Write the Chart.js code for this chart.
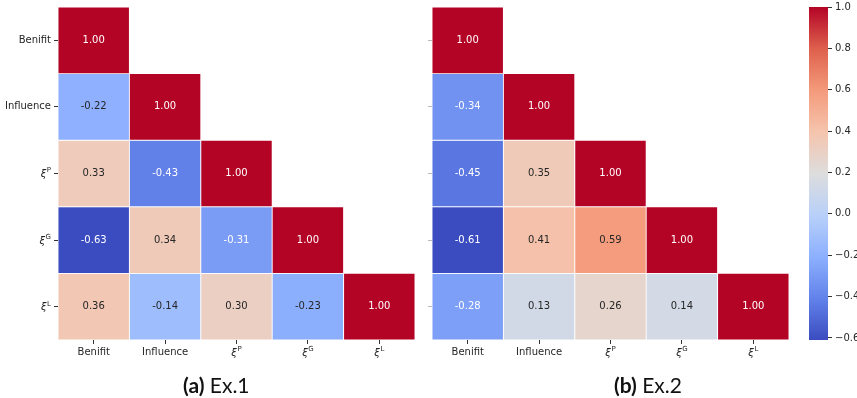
<!DOCTYPE html>
<html lang="en">
<head>
<meta charset="UTF-8" />
<title>Correlation heatmaps</title>
<script src="https://cdn.jsdelivr.net/npm/chart.js"></script>
<style>
  body {
    margin: 0;
    background: white;
    width: 857px;
    height: 398px;
    position: relative;
    overflow: hidden;
    font-family: "DejaVu Sans", sans-serif;
  }
  .box { position: absolute; }
  .caption {
    position: absolute;
    top: 372px;
    font-family: "Lato", "Noto Sans", sans-serif;
    font-size: 21px;
    color: #111;
    white-space: nowrap;
  }
  .caption b { font-weight: 700; }
</style>
</head>
<body>

<div class="box" style="left:0;top:0;width:420px;height:375px"><canvas id="ex1"></canvas></div>
<div class="box" style="left:420px;top:0;width:374px;height:375px"><canvas id="ex2"></canvas></div>
<div class="box" style="left:800px;top:0;width:57px;height:347px"><canvas id="cbar"></canvas></div>

<div class="caption" style="left:183px"><b>(a)</b> Ex.1</div>
<div class="caption" style="left:614px"><b>(b)</b> Ex.2</div>

<script>
  // variable names (x and y are the same); ^ marks a superscript
  const varLabels = ['Benifit', 'Influence', 'ξ^P', 'ξ^G', 'ξ^L'];

  // lower triangle, row by row
  const ex1Values = [
    [1.00],
    [-0.22, 1.00],
    [0.33, -0.43, 1.00],
    [-0.63, 0.34, -0.31, 1.00],
    [0.36, -0.14, 0.30, -0.23, 1.00]
  ];
  const ex2Values = [
    [1.00],
    [-0.34, 1.00],
    [-0.45, 0.35, 1.00],
    [-0.61, 0.41, 0.59, 1.00],
    [-0.28, 0.13, 0.26, 0.14, 1.00]
  ];

  const colorbarTicks = [-0.6, -0.4, -0.2, 0.0, 0.2, 0.4, 0.6, 0.8, 1.0];
  const vmax = 1.0;
  const vminEx1 = -0.63;
  const vminEx2 = -0.61;

  // coolwarm anchor colours
  const coolwarm = [
    [0.0, [59, 76, 192]],
    [0.125, [98, 130, 234]],
    [0.25, [141, 176, 254]],
    [0.375, [184, 208, 249]],
    [0.5, [221, 221, 221]],
    [0.625, [245, 196, 173]],
    [0.75, [244, 154, 123]],
    [0.875, [222, 96, 77]],
    [1.0, [180, 4, 38]]
  ];

  function cmap(t) {
    t = Math.max(0, Math.min(1, t));
    for (let i = 1; i < coolwarm.length; i++) {
      if (t <= coolwarm[i][0]) {
        const [t0, c0] = coolwarm[i - 1];
        const [t1, c1] = coolwarm[i];
        const f = (t - t0) / (t1 - t0);
        return c0.map((c, k) => Math.round(c + (c1[k] - c) * f));
      }
    }
    return coolwarm[coolwarm.length - 1][1];
  }

  function rgb(c) { return 'rgb(' + c.join(',') + ')'; }

  function luminance(c) {
    const l = c.map(v => {
      v = v / 255;
      return v <= 0.03928 ? v / 12.92 : Math.pow((v + 0.055) / 1.055, 2.4);
    });
    return 0.2126 * l[0] + 0.7152 * l[1] + 0.0722 * l[2];
  }

  // one dataset per row, floating bars from row to row+1
  function buildDatasets(values, vmin) {
    return values.map((row, i) => {
      const cols = row.map(v => cmap((v - vmin) / (vmax - vmin)));
      return {
        data: row.map((v, j) => ({ x: varLabels[j], y: [i, i + 1], v: v })),
        backgroundColor: cols.map(rgb),
        textColors: cols.map(c => luminance(c) > 0.408 ? '#262626' : '#ffffff'),
        borderColor: '#ffffff',
        borderWidth: 0.8,
        borderSkipped: false,
        barPercentage: 1,
        categoryPercentage: 1,
        grouped: false
      };
    });
  }

  const cellText = {
    id: 'cellText',
    afterDatasetsDraw(chart) {
      const ctx = chart.ctx;
      ctx.save();
      ctx.font = '10px "DejaVu Sans"';
      ctx.textAlign = 'center';
      ctx.textBaseline = 'middle';
      chart.data.datasets.forEach((ds, di) => {
        chart.getDatasetMeta(di).data.forEach((el, k) => {
          ctx.fillStyle = ds.textColors[k];
          ctx.fillText(ds.data[k].v.toFixed(2), el.x, (el.y + el.base) / 2);
        });
      });
      ctx.restore();
    }
  };

  // tick labels with a superscript: italic xi plus a small raised letter
  function drawSup(ctx, label, x, y, align) {
    const [base, sup] = label.split('^');
    ctx.font = 'italic 10px "DejaVu Sans"';
    const wb = ctx.measureText(base).width;
    ctx.font = '7px "DejaVu Sans"';
    const ws = ctx.measureText(sup).width;
    const total = wb + ws + 0.5;
    let x0 = align === 'right' ? x - total : x - total / 2;
    ctx.textAlign = 'left';
    ctx.textBaseline = 'middle';
    ctx.font = 'italic 10px "DejaVu Sans"';
    ctx.fillText(base, x0, y + 1);
    ctx.font = '7px "DejaVu Sans"';
    ctx.fillText(sup, x0 + wb + 0.5, y - 3);
  }

  const supLabels = {
    id: 'supLabels',
    afterDraw(chart, args, opts) {
      const ctx = chart.ctx;
      ctx.save();
      ctx.fillStyle = '#262626';
      const xs = chart.scales.x;
      varLabels.forEach((lab, i) => {
        if (lab.indexOf('^') < 0) return;
        drawSup(ctx, lab, xs.getPixelForTick(i), xs.bottom - 35 + 12, 'center');
      });
      if (opts.showY) {
        const ys = chart.scales.y;
        ys.ticks.forEach((t, i) => {
          const lab = varLabels[i];
          if (lab.indexOf('^') < 0) return;
          drawSup(ctx, lab, ys.right - 7, ys.getPixelForValue(t.value), 'right');
        });
      }
      ctx.restore();
    }
  };

  const plainLabel = lab => lab.indexOf('^') < 0 ? lab : '';
  const tickFont = { family: 'DejaVu Sans', size: 10 };

  function heatmap(id, values, vmin, showY, yWidth, padRight) {
    new Chart(document.getElementById(id), {
      type: 'bar',
      data: { labels: varLabels, datasets: buildDatasets(values, vmin) },
      options: {
        responsive: true,
        maintainAspectRatio: false,
        animation: false,
        layout: { padding: { top: 7, right: padRight, left: 0, bottom: 0 } },
        plugins: {
          legend: { display: false },
          tooltip: { enabled: false },
          supLabels: { showY: showY }
        },
        scales: {
          x: {
            type: 'category',
            offset: true,
            grid: { offset: false, drawOnChartArea: false, drawTicks: true, tickLength: 4, color: '#333' },
            border: { display: false },
            ticks: {
              color: '#262626',
              font: tickFont,
              padding: 2,
              maxRotation: 0,
              callback: function (v, i) { return plainLabel(varLabels[i]); }
            },
            afterFit(scale) {
              scale.height = 35;
              scale.paddingLeft = 0;
              scale.paddingRight = 0;
            }
          },
          y: {
            type: 'linear',
            min: 0,
            max: 5,
            reverse: true,
            grid: { drawOnChartArea: false, drawTicks: true, tickLength: 4, color: showY ? '#333' : '#bbb' },
            border: { display: false },
            afterBuildTicks(scale) {
              scale.ticks = [0.5, 1.5, 2.5, 3.5, 4.5].map(v => ({ value: v }));
            },
            ticks: {
              color: '#262626',
              font: tickFont,
              padding: 3,
              callback: (v, i) => showY ? plainLabel(varLabels[i]) : ''
            },
            afterFit(scale) {
              scale.width = yWidth;
              scale.paddingTop = 0;
              scale.paddingBottom = 0;
            }
          }
        }
      },
      plugins: [cellText, supLabels]
    });
  }

  heatmap('ex1', ex1Values, vminEx1, true, 58, 5);
  heatmap('ex2', ex2Values, vminEx2, false, 12, 5);

  // colorbar
  new Chart(document.getElementById('cbar'), {
    type: 'bar',
    data: {
      labels: [''],
      datasets: [{
        data: [[vminEx2, vmax]],
        barPercentage: 1,
        categoryPercentage: 1,
        backgroundColor(c) {
          const area = c.chart.chartArea;
          if (!area) return 'transparent';
          const g = c.chart.ctx.createLinearGradient(0, area.bottom, 0, area.top);
          coolwarm.forEach(([t, col]) => g.addColorStop(t, rgb(col)));
          return g;
        }
      }]
    },
    options: {
      responsive: true,
      maintainAspectRatio: false,
      animation: false,
      layout: { padding: { top: 7, bottom: 7, left: 9, right: 0 } },
      plugins: { legend: { display: false }, tooltip: { enabled: false } },
      scales: {
        x: { display: false, offset: true },
        y: {
          position: 'right',
          min: vminEx2,
          max: vmax,
          grid: { drawOnChartArea: false, drawTicks: true, tickLength: 4, color: '#333' },
          border: { display: false },
          afterBuildTicks(scale) {
            scale.ticks = colorbarTicks.map(v => ({ value: v }));
          },
          ticks: {
            color: '#262626',
            font: tickFont,
            padding: 3,
            callback: v => v.toFixed(1).replace('-', '\u2212')
          },
          afterFit(scale) {
            scale.width = 29;
            scale.paddingTop = 0;
            scale.paddingBottom = 0;
          }
        }
      }
    }
  });
</script>
</body>
</html>
